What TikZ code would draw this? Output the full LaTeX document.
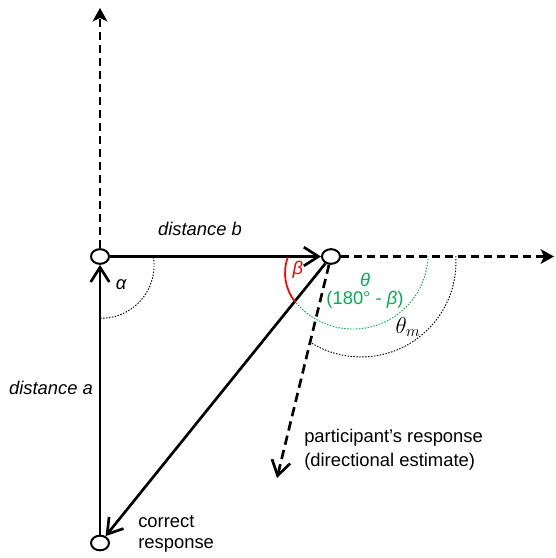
\documentclass[tikz,border=0pt]{standalone}
\usepackage{fontspec}
\setmainfont{Liberation Sans}
\usetikzlibrary{arrows.meta,shapes}
\definecolor{thetagreen}{RGB}{0,176,80}

\begin{document}
\begin{tikzpicture}[x=0.75pt,y=-0.75pt,
  pt/.style={draw,ellipse,line width=1.5pt,minimum width=13.5pt,minimum height=11pt,inner sep=0pt},
  vec/.style={line width=2pt,-{Straight Barb[length=11pt,width=14pt]}},
  ray/.style={line width=2pt,dash pattern=on 6pt off 3.75pt,-{Stealth[length=10pt,width=11pt,inset=2.5pt]}},
  angarc/.style={line width=0.7pt,dash pattern=on 1.1pt off 1.1pt},
  lbl/.style={font=\fontsize{13.8}{18}\selectfont,inner sep=0pt},
  ilbl/.style={lbl,font=\fontsize{13.8}{18}\selectfont\itshape}]
\useasboundingbox (0,0) rectangle (556,558);
\node[pt] (orig) at (100,256.5) {};
\node[pt] (tgt) at (331,256.5) {};
\node[pt] (corr) at (100,543) {};
\coordinate (up) at (100,8);
\coordinate (east) at (554,256.5);
\coordinate (resp) at (277,478);
\draw[ray] (orig) -- (up);
\draw[ray] (tgt) -- (east);
\draw[vec] (orig) -- (tgt);
\draw[vec] (corr) -- (orig);
\draw[vec] (tgt) -- (corr);
\draw[vec,dash pattern=on 7pt off 4pt] (tgt) -- (resp);
\draw[angarc] (153.4,257) arc[start angle=9,end angle=-90,radius=39.75pt];
\draw[red,line width=1.3pt] (287.8,257.3) arc[start angle=160,end angle=219,radius=34.5pt];
\draw[angarc,thetagreen] (428,256) arc[start angle=-1.5,end angle=-139,radius=56.25pt];
\draw[angarc] (455.8,256) arc[start angle=3.6,end angle=-121.6,radius=71.25pt];
\node[ilbl] (distb) at (200,229) {distance b};
\node[ilbl] (dista) at (51,388) {distance a};
\node[ilbl] (alpha) at (121,285) {α};
\node[ilbl,red] (beta) at (298,270) {β};
\node[lbl,thetagreen,align=center,font=\fontsize{13.8}{13.5}\selectfont] (theta) at (365,291) {\textit{θ}\\(180° - \textit{β})};
\node[lbl,font=\fontsize{17}{18}\selectfont] (thetam) at (408,327) {$\theta_m$};
\node[lbl,anchor=west,align=left] (resptxt) at (304,450) {participant’s response\\(directional estimate)};
\node[lbl,anchor=west,align=left,font=\fontsize{13.8}{15.75}\selectfont] (corrtxt) at (138,534) {correct\\response};
\end{tikzpicture}
\end{document}
